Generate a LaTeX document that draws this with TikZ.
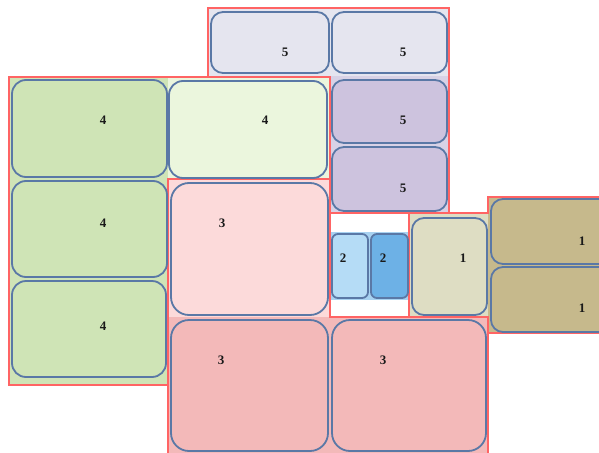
\documentclass[tikz,border=0pt]{standalone}
\usepackage{fontspec}
\setmainfont{Liberation Serif}
\definecolor{boxedge}{HTML}{5A78A6}
\definecolor{grpred}{HTML}{FF6464}
\definecolor{lav}{HTML}{E5E5EF}
\definecolor{lavbg}{HTML}{D8D2E6}
\definecolor{purp}{HTML}{CDC3DE}
\definecolor{gdark}{HTML}{CFE4B6}
\definecolor{glight}{HTML}{EBF6DD}
\definecolor{pinkl}{HTML}{FCDADA}
\definecolor{pinkd}{HTML}{F3B9B9}
\definecolor{bluel}{HTML}{B5DCF6}
\definecolor{blued}{HTML}{6DB1E6}
\definecolor{blueband}{HTML}{A8D2F1}
\definecolor{olivel}{HTML}{DEDDC3}
\definecolor{tanc}{HTML}{C6B98C}
\tikzset{
  box/.style={draw=boxedge, line width=1.8pt, rounded corners=14pt, inner sep=0pt, anchor=center},
  smallbox/.style={box, rounded corners=6pt},
  grp/.style={draw=grpred, line width=1.3pt},
  num/.style={font=\fontsize{13}{15}\selectfont\bfseries, inner sep=0pt, text=black!90}}
\begin{document}
\begin{tikzpicture}[x=1pt,y=-1pt]
\useasboundingbox (0,0) rectangle (599,452);
\clip (0,0) rectangle (599,452);
\fill[white] (0,0) rectangle (599,452);
% group 5
\fill[lav] (208,8) rectangle (449,213);
\fill[lavbg] (330,76) rectangle (449,213);
\draw[grp] (208,8) rectangle (449,213);
% group 4
\fill[glight] (9,77) rectangle (330,385);
\fill[gdark] (9,77) rectangle (168,385);
\draw[grp] (9,77) rectangle (330,385);
% group 3
\fill[pinkl] (168,179) rectangle (330,317);
\fill[pinkd] (168,317) rectangle (488,460);
\draw[grp] (168,179) -- (330,179) -- (330,317) -- (488,317) -- (488,460) -- (168,460) -- cycle;
% group 2
\fill[white] (330,213) rectangle (409,317);
\fill[blueband] (330,232) rectangle (409,300);
\draw[grp] (330,213) rectangle (409,317);
% group 1
\fill[olivel] (409,213) rectangle (488,317);
\fill[tanc] (488,197) rectangle (630,333);
\draw[grp] (409,213) -- (488,213) -- (488,197) -- (630,197) -- (630,333) -- (488,333) -- (488,317) -- (409,317) -- cycle;
% boxes group 5
\node[box, rounded corners=12pt, fill=lav, minimum width=118pt, minimum height=61pt] (b5a) at (270,42.5) {};
\node[box, rounded corners=12pt, fill=lav, minimum width=115pt, minimum height=61pt] (b5b) at (389.5,42.5) {};
\node[box, rounded corners=12pt, fill=purp, minimum width=115pt, minimum height=63pt] (b5c) at (389.5,111.5) {};
\node[box, rounded corners=12pt, fill=purp, minimum width=115pt, minimum height=64pt] (b5d) at (389.5,179) {};
\node[num] (t5a) at (285,52) {5};
\node[num] (t5b) at (403,52) {5};
\node[num] (t5c) at (403,120) {5};
\node[num] (t5d) at (403,188) {5};
% boxes group 4
\node[box, fill=gdark, minimum width=155pt, minimum height=97pt] (b4a) at (89.5,128.5) {};
\node[box, fill=gdark, minimum width=155pt, minimum height=96pt] (b4b) at (89.5,229) {};
\node[box, fill=gdark, minimum width=154pt, minimum height=96pt] (b4c) at (89,329) {};
\node[box, fill=glight, minimum width=158pt, minimum height=97pt] (b4d) at (248,129.5) {};
\node[num] (t4a) at (103,120) {4};
\node[num] (t4b) at (103,223) {4};
\node[num] (t4c) at (103,326) {4};
\node[num] (t4d) at (265,120) {4};
% boxes group 3
\node[box, rounded corners=18pt, fill=pinkl, minimum width=157pt, minimum height=132pt] (b3a) at (249.5,249) {};
\node[box, rounded corners=18pt, fill=pinkd, minimum width=157pt, minimum height=131pt] (b3b) at (249.5,385.5) {};
\node[box, rounded corners=18pt, fill=pinkd, minimum width=154pt, minimum height=131pt] (b3c) at (409,385.5) {};
\node[num] (t3a) at (222,223) {3};
\node[num] (t3b) at (221,360) {3};
\node[num] (t3c) at (383,360) {3};
% boxes group 2
\node[smallbox, fill=bluel, minimum width=36pt, minimum height=64pt] (b2a) at (350,266) {};
\node[smallbox, fill=blued, minimum width=37pt, minimum height=64pt] (b2b) at (389.5,266) {};
\node[num] (t2a) at (343,258) {2};
\node[num] (t2b) at (383,258) {2};
% boxes group 1
\node[box, rounded corners=12pt, fill=olivel, minimum width=75pt, minimum height=97pt] (b1a) at (449.5,266.5) {};
\node[box, rounded corners=12pt, fill=tanc, minimum width=130pt, minimum height=65pt] (b1b) at (556,231.5) {};
\node[box, rounded corners=12pt, fill=tanc, minimum width=130pt, minimum height=65pt] (b1c) at (556,299.5) {};
\node[num] (t1a) at (463,258) {1};
\node[num] (t1b) at (582,241) {1};
\node[num] (t1c) at (582,308) {1};
\end{tikzpicture}
\end{document}
